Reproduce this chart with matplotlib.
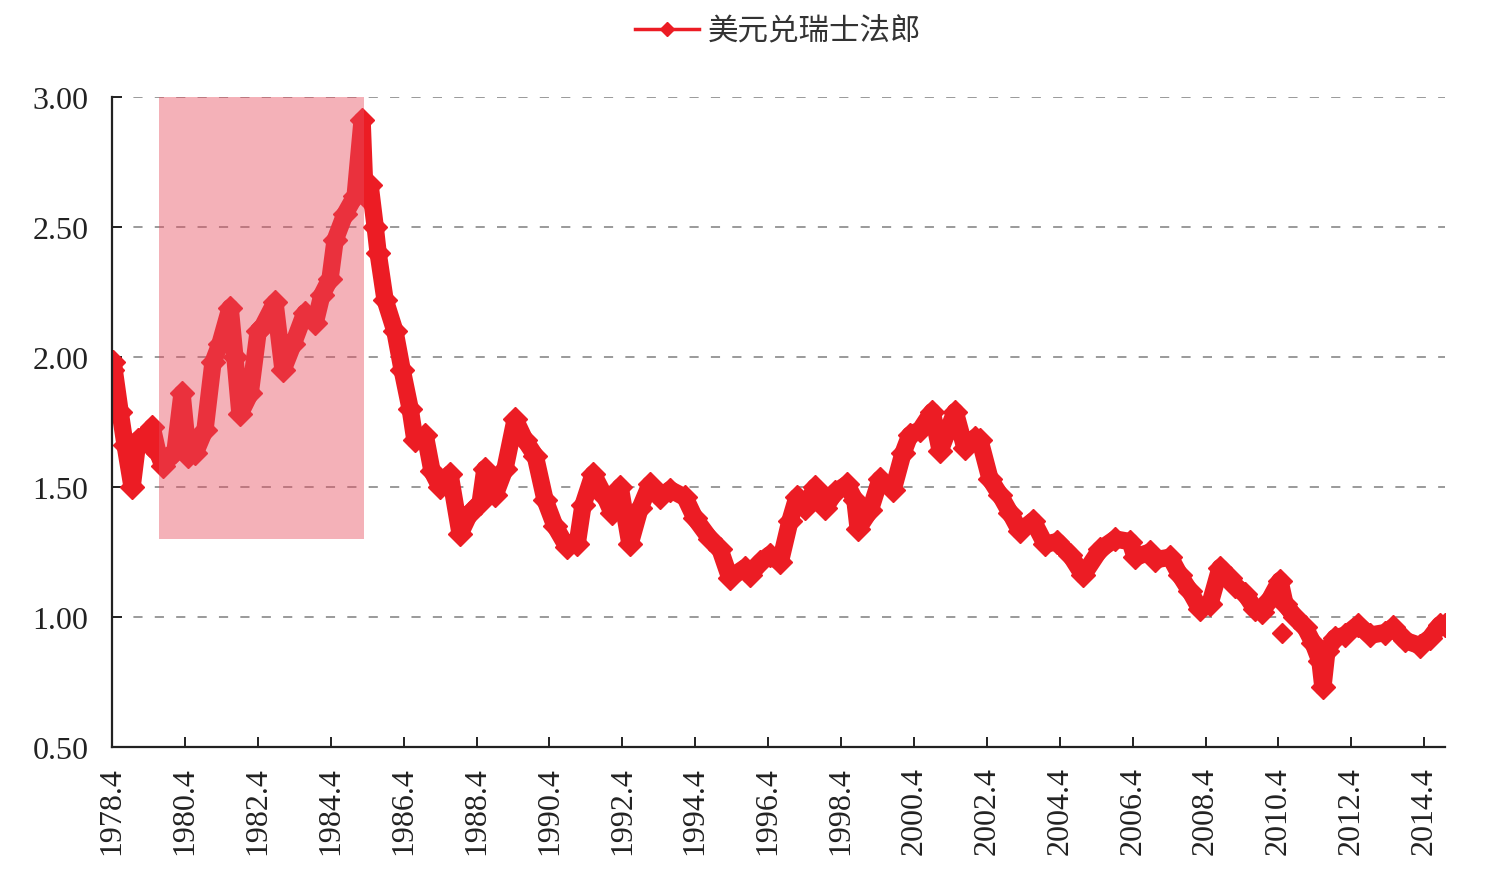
import matplotlib
matplotlib.use("Agg")
import matplotlib.pyplot as plt
from matplotlib.lines import Line2D
from matplotlib.patches import Rectangle

# USD/CHF, values (decimal years)
years = [
    1978.25, 1978.28, 1978.47, 1978.61, 1978.80, 1978.96, 1979.16, 1979.29,
    1979.35, 1979.51, 1979.65, 1979.84, 1979.98, 1980.17, 1980.34, 1980.53,
    1980.80, 1981.02, 1981.21, 1981.49, 1981.62, 1981.76, 1982.04, 1982.26,
    1982.39, 1982.72, 1982.94, 1983.22, 1983.54, 1983.82, 1984.01, 1984.23,
    1984.37, 1984.64, 1984.92, 1985.11, 1985.19, 1985.33, 1985.47, 1985.55,
    1985.74, 1986.01, 1986.21, 1986.43, 1986.56, 1986.84, 1987.03, 1987.25,
    1987.52, 1987.80, 1988.07, 1988.35, 1988.48, 1988.76, 1989.03, 1989.31,
    1989.58, 1989.86, 1990.13, 1990.40, 1990.73, 1991.01, 1991.17, 1991.45,
    1991.78, 1991.97, 1992.19, 1992.46, 1992.74, 1993.01, 1993.28, 1993.56,
    1993.97, 1994.24, 1994.66, 1994.93, 1995.20, 1995.62, 1995.75, 1996.03,
    1996.30, 1996.58, 1996.85, 1997.04, 1997.26, 1997.54, 1997.81, 1998.09,
    1998.41, 1998.63, 1998.72, 1999.05, 1999.32, 1999.68, 1999.95, 2000.14,
    2000.42, 2000.75, 2000.97, 2001.38, 2001.65, 2001.93, 2002.06, 2002.34,
    2002.61, 2002.89, 2003.16, 2003.52, 2003.85, 2004.18, 2004.53, 2004.89,
    2005.36, 2005.77, 2006.18, 2006.32, 2006.73, 2006.86, 2007.28, 2007.55,
    2007.82, 2008.10, 2008.37, 2008.65, 2008.92, 2009.06, 2009.33, 2009.61,
    2009.80, 2010.02, 2010.29, 2010.43, 2010.70, 2010.98, 2011.20, 2011.39,
    2011.47, 2011.58, 2011.80, 2012.08, 2012.43, 2012.76, 2013.17, 2013.39,
    2013.72, 2014.13, 2014.41, 2014.68, 2014.82,
]
usd_chf = [
    1.95, 1.98, 1.79, 1.66, 1.50, 1.68, 1.70, 1.66,
    1.73, 1.63, 1.58, 1.62, 1.64, 1.86, 1.62, 1.63,
    1.72, 1.98, 2.05, 2.19, 2.00, 1.78, 1.86, 2.10,
    2.12, 2.21, 1.95, 2.05, 2.17, 2.13, 2.24, 2.30,
    2.45, 2.55, 2.62, 2.91, 2.62, 2.66, 2.50, 2.40,
    2.22, 2.10, 1.95, 1.80, 1.68, 1.70, 1.56, 1.50,
    1.55, 1.32, 1.40, 1.44, 1.57, 1.47, 1.57, 1.76,
    1.68, 1.62, 1.45, 1.35, 1.27, 1.28, 1.43, 1.55,
    1.46, 1.40, 1.50, 1.28, 1.42, 1.51, 1.46, 1.49,
    1.46, 1.38, 1.30, 1.26, 1.15, 1.19, 1.16, 1.21,
    1.24, 1.21, 1.37, 1.46, 1.42, 1.50, 1.42, 1.48,
    1.51, 1.45, 1.34, 1.41, 1.53, 1.49, 1.63, 1.70,
    1.72, 1.79, 1.64, 1.79, 1.65, 1.69, 1.68, 1.53,
    1.47, 1.40, 1.33, 1.37, 1.28, 1.29, 1.24, 1.16,
    1.26, 1.30, 1.29, 1.23, 1.25, 1.22, 1.23, 1.16,
    1.10, 1.03, 1.05, 1.19, 1.15, 1.12, 1.09, 1.03,
    1.02, 1.07, 1.14, 1.05, 1.00, 0.96, 0.90, 0.83,
    0.73, 0.87, 0.92, 0.93, 0.97, 0.93, 0.94, 0.96,
    0.91, 0.89, 0.92, 0.97, 0.97,
]
# a single stray observation below the band in 2010
outlier_year = [2010.34]
outlier_value = [0.94]

highlight_years = (1979.54, 1985.16)
highlight_values = (1.30, 3.00)

tick_years = [1978.25 + 2 * i for i in range(19)]
tick_labels = [f"{1978 + 2 * i}.4" for i in range(19)]
y_ticks = [0.5, 1.0, 1.5, 2.0, 2.5, 3.0]

red = "#ec1c24"
serif = ["Liberation Serif", "DejaVu Serif"]
plt.rcParams["font.family"] = serif

fig = plt.figure(figsize=(14.88, 8.87), dpi=100)
ax = fig.add_axes([0.0753, 0.1567, 0.8958, 0.7328])

ax.plot(years, usd_chf, color=red, lw=12.5, marker="D", ms=12,
        solid_joinstyle="round", solid_capstyle="round", zorder=3)
ax.plot(outlier_year, outlier_value, color=red, ls="none", marker="D",
        ms=10, zorder=3)

# shaded period sits on top of the line, so the line shows through lighter
ax.add_patch(Rectangle((highlight_years[0], highlight_values[0]),
                       highlight_years[1] - highlight_years[0],
                       highlight_values[1] - highlight_values[0],
                       facecolor="#e84e5f", alpha=0.44, lw=0, zorder=4))

ax.set_xlim(1978.25, 2014.82)
ax.set_ylim(0.5, 3.0)
ax.set_yticks(y_ticks)
ax.set_yticklabels([f"{v:.2f}" for v in y_ticks])
ax.set_xticks(tick_years)
ax.set_xticklabels(tick_labels, rotation=90)

for v in y_ticks[1:]:
    ax.axhline(v, color="#7f7f7f", lw=1.1, dashes=(6, 8), zorder=1)

for side in ["top", "right"]:
    ax.spines[side].set_visible(False)
for side in ["left", "bottom"]:
    ax.spines[side].set_linewidth(1.6)
    ax.spines[side].set_color("#222222")
    ax.spines[side].set_zorder(5)

ax.tick_params(axis="y", direction="in", length=7, width=1.4, pad=17,
               labelsize=23, colors="#222222")
ax.tick_params(axis="x", direction="in", length=7, width=1.4, pad=14,
               labelsize=23, colors="#222222")

handle = Line2D([], [], color=red, lw=2.5, marker="D", ms=7)
leg = fig.legend([handle], ["美元兑瑞士法郎"], loc="center",
                 bbox_to_anchor=(0.523, 0.963), frameon=False,
                 handlelength=2.1, handletextpad=0.3,
                 prop={"family": ["Liberation Serif", "Noto Sans CJK SC"],
                       "size": 22})
for t in leg.get_texts():
    t.set_color("#333333")

fig.savefig("out.png", dpi=100)
